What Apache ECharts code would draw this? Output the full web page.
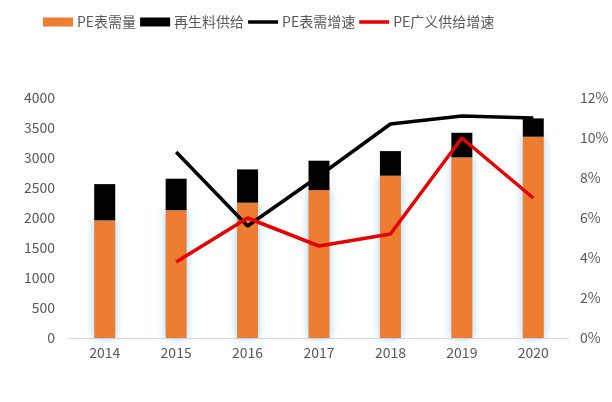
<!DOCTYPE html>
<html>
<head>
<meta charset="utf-8">
<script src="https://cdn.jsdelivr.net/npm/echarts@6/dist/echarts.min.js"></script>
<style>
html, body { margin: 0; padding: 0; background: #fff; }
#main { width: 612px; height: 402px; }
</style>
</head>
<body>
<div id="main"></div>
<script>
// --- 数据 ---
var years = ['2014', '2015', '2016', '2017', '2018', '2019', '2020'];
var peDemand = [1960, 2130, 2255, 2465, 2705, 3010, 3355];   // PE表需量
var recycled = [605, 525, 555, 490, 410, 410, 305];          // 再生料供给
var demandGrowth = [null, 9.3, 5.6, 8.1, 10.7, 11.1, 11.0];  // PE表需增速 %
var supplyGrowth = [null, 3.8, 6.0, 4.6, 5.2, 10.0, 7.0];    // PE广义供给增速 %

var txt = '#595959';
var font = '"Microsoft YaHei", "Noto Sans CJK SC", sans-serif';
var lineIcon = 'path://M0,0 L30,0 L30,3.5 L0,3.5 Z';

var myChart = echarts.init(document.getElementById('main'));
myChart.setOption({
	animation: false,
	textStyle: { fontFamily: font },
	legend: {
		data: [
			{ name: 'PE表需量', icon: 'rect' },
			{ name: '再生料供给', icon: 'rect' },
			{ name: 'PE表需增速', icon: lineIcon },
			{ name: 'PE广义供给增速', icon: lineIcon }
		],
		left: 38,
		top: 10,
		itemWidth: 30,
		itemHeight: 9,
		itemGap: 4,
		textStyle: { color: txt, fontSize: 14, fontFamily: font, padding: [0, 0, 0, -1] }
	},
	grid: { left: 69, right: 43, top: 98, bottom: 64 },
	xAxis: [{
		type: 'category',
		data: years,
		axisTick: { show: false },
		axisLine: { show: true, lineStyle: { color: '#d9d9d9' } },
		axisLabel: { color: txt, fontSize: 14 }
	}],
	yAxis: [
		{
			type: 'value',
			min: 0, max: 4000, interval: 500,
			splitLine: { show: false },
			axisLine: { show: false },
			axisTick: { show: false },
			axisLabel: { color: txt, fontSize: 14, margin: 14, formatter: function (v) { return String(v); } }
		},
		{
			type: 'value',
			min: 0, max: 12, interval: 2,
			splitLine: { show: false },
			axisLine: { show: false },
			axisTick: { show: false },
			axisLabel: { color: txt, fontSize: 14, margin: 11, formatter: '{value}%' }
		}
	],
	series: [
		{
			name: 'PE表需量',
			type: 'bar',
			stack: 'total',
			barWidth: 21,
			data: peDemand,
			itemStyle: {
				color: '#ed7d31',
				shadowColor: 'rgba(150,200,245,0.9)',
				shadowBlur: 8
			}
		},
		{
			name: '再生料供给',
			type: 'bar',
			stack: 'total',
			data: recycled,
			itemStyle: { color: '#000000' }
		},
		{
			name: 'PE表需增速',
			type: 'line',
			yAxisIndex: 1,
			data: demandGrowth,
			symbol: 'none',
			lineStyle: { color: '#000000', width: 3.5 },
			itemStyle: { color: '#000000' }
		},
		{
			name: 'PE广义供给增速',
			type: 'line',
			yAxisIndex: 1,
			data: supplyGrowth,
			symbol: 'none',
			lineStyle: { color: '#e60000', width: 3.5 },
			itemStyle: { color: '#e60000' }
		}
	]
});
</script>
</body>
</html>
